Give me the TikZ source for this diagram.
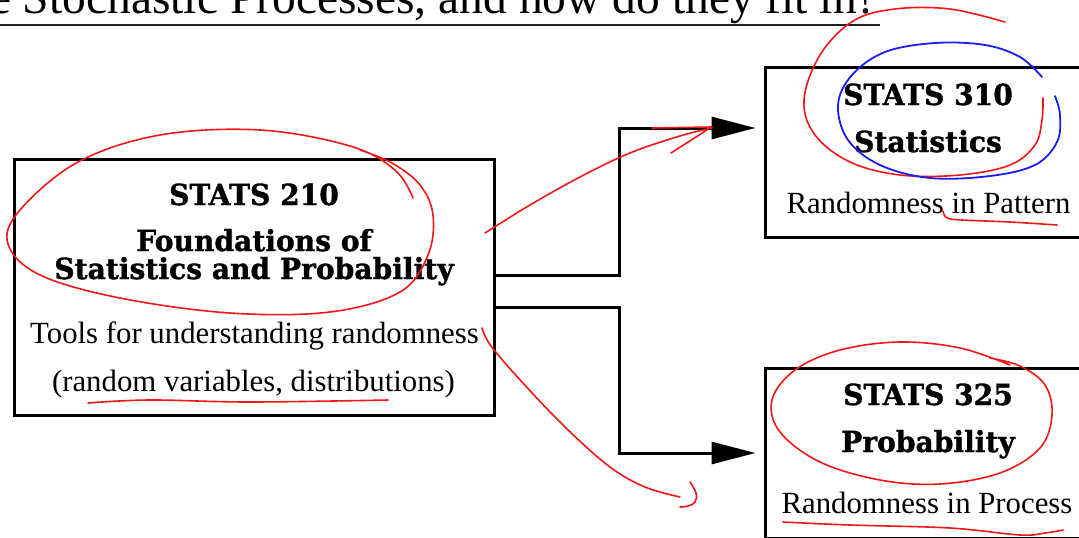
\documentclass[tikz,border=0pt]{standalone}
\usepackage{fontspec}
\newfontfamily\tms{Liberation Serif}
\newfontfamily\hvy{DejaVu Serif}[BoldFeatures={FakeBold=1.2}]
\usetikzlibrary{arrows.meta,calc}
\definecolor{pen}{RGB}{242,22,22}
\definecolor{bpen}{RGB}{28,28,240}
\definecolor{rule}{RGB}{34,34,34}
\begin{document}
\begin{tikzpicture}[x=1pt,y=-1pt,
  box/.style={draw=black,line width=3pt,rectangle,inner sep=0pt},
  conn/.style={draw=black,line width=3pt,-{Triangle[length=44pt,width=22pt]}},
  boldtxt/.style={font=\fontsize{29}{34}\selectfont\hvy\bfseries,anchor=base,inner sep=0pt},
  regtxt/.style={font=\fontsize{30.8}{36}\selectfont\tms,anchor=base,inner sep=0pt},
  ink/.style={draw=pen,line width=1.6pt,line cap=round,line join=round},
  binkst/.style={draw=bpen,line width=1.8pt,line cap=round,line join=round}
]
\useasboundingbox (0,0) rectangle (1079,538);
\clip (0,0) rectangle (1079,538);

% title and rule
\node[font=\fontsize{47.5}{52}\selectfont\tms,anchor=base east,inner sep=0pt] (title) at (878,13) {e Stochastic Processes, and how do they fit in?};
\draw[draw=rule,line width=2.8pt] (0,25) -- (880,25);

% boxes
\node[box,minimum width=480pt,minimum height=256pt] (b1) at (254,287) {};
\node[box,minimum width=326pt,minimum height=170pt] (b2) at (928,152) {};
\node[box,minimum width=326pt,minimum height=170pt] (b3) at (928,453) {};

% texts box 1
\node[boldtxt] (t1a) at (254,205) {\scalebox{0.97}[1]{STATS 210}};
\node[boldtxt] (t1b) at (254,251) {\scalebox{0.97}[1]{Foundations of}};
\node[boldtxt] (t1c) at (254,279) {\scalebox{0.97}[1]{Statistics and Probability}};
\node[regtxt] (t1d) at (254.5,343) {Tools for understanding randomness};
\node[regtxt] (t1e) at (253.5,391) {(random variables, distributions)};

% texts box 2
\node[boldtxt] (t2a) at (928,105) {\scalebox{0.97}[1]{STATS 310}};
\node[boldtxt] (t2b) at (928,152) {\scalebox{0.97}[1]{Statistics}};
\node[regtxt] (t2c) at (928.5,213) {Randomness in Pattern};

% texts box 3
\node[boldtxt] (t3a) at (928,405) {\scalebox{0.97}[1]{STATS 325}};
\node[boldtxt] (t3b) at (928,452) {\scalebox{0.97}[1]{Probability}};
\node[regtxt] (t3c) at (927,513) {Randomness in Process};

% connectors
\draw[conn] ([yshift=12pt]b1.east) -- ++(124pt,0) |- ([xshift=-8pt,yshift=24pt]b2.west);
\draw[conn] ([yshift=-20pt]b1.east) -- ++(124pt,0) |- ([xshift=-8pt]b3.west);

% red annotations
\draw[ink] plot[smooth,tension=0.6] coordinates {(413,198) (395,170) (350,146) (260,130) (160,135) (78,162) (20,210) (8,244) (40,275) (120,298) (230,313) (330,312) (400,292) (428,255) (433,215) (420,185) (392,163) (360,150)};
\draw[ink] plot[smooth,tension=0.6] coordinates {(485,233) (530,205) (580,177) (630,153) (680,136) (712,128)};
\draw[ink] (652,128) -- (712,127);
\draw[ink] (671,153) -- (707,130);
\draw[ink] plot[smooth,tension=0.6] coordinates {(88,403) (150,400) (250,402) (388,400)};
\draw[ink] plot[smooth,tension=0.6] coordinates {(482,328) (491,346) (522,382) (566,428) (610,467) (645,487) (680,497)};
\draw[ink] plot[smooth,tension=0.7] coordinates {(690,482) (696,493) (695,502) (688,506) (680,507)};
\draw[ink] plot[smooth,tension=0.6] coordinates {(1005,22) (950,9) (895,9) (853,21) (820,55) (804,100) (815,135) (850,162) (900,175) (960,175) (1010,165) (1035,145) (1042,120) (1043,98)};
\draw[binkst] plot[smooth,tension=0.6] coordinates {(1042,77) (1020,57) (985,45) (935,43) (885,52) (852,75) (838,105) (848,140) (880,165) (930,178) (990,176) (1035,165) (1057,142) (1060,115) (1055,96)};
\draw[ink] plot[smooth,tension=0.6] coordinates {(943,211) (947,218) (962,220) (1010,222) (1057,225)};
\draw[ink] plot[smooth,tension=0.6] coordinates {(1010,365) (960,348) (900,342) (840,350) (795,370) (772,400) (780,432) (820,462) (880,480) (940,484) (1000,473) (1040,448) (1052,415) (1045,385) (1020,366) (990,358)};
\draw[ink] plot[smooth,tension=0.6] coordinates {(783,522) (850,525) (950,528) (1020,535) (1045,533) (1063,530)};
\end{tikzpicture}
\end{document}
